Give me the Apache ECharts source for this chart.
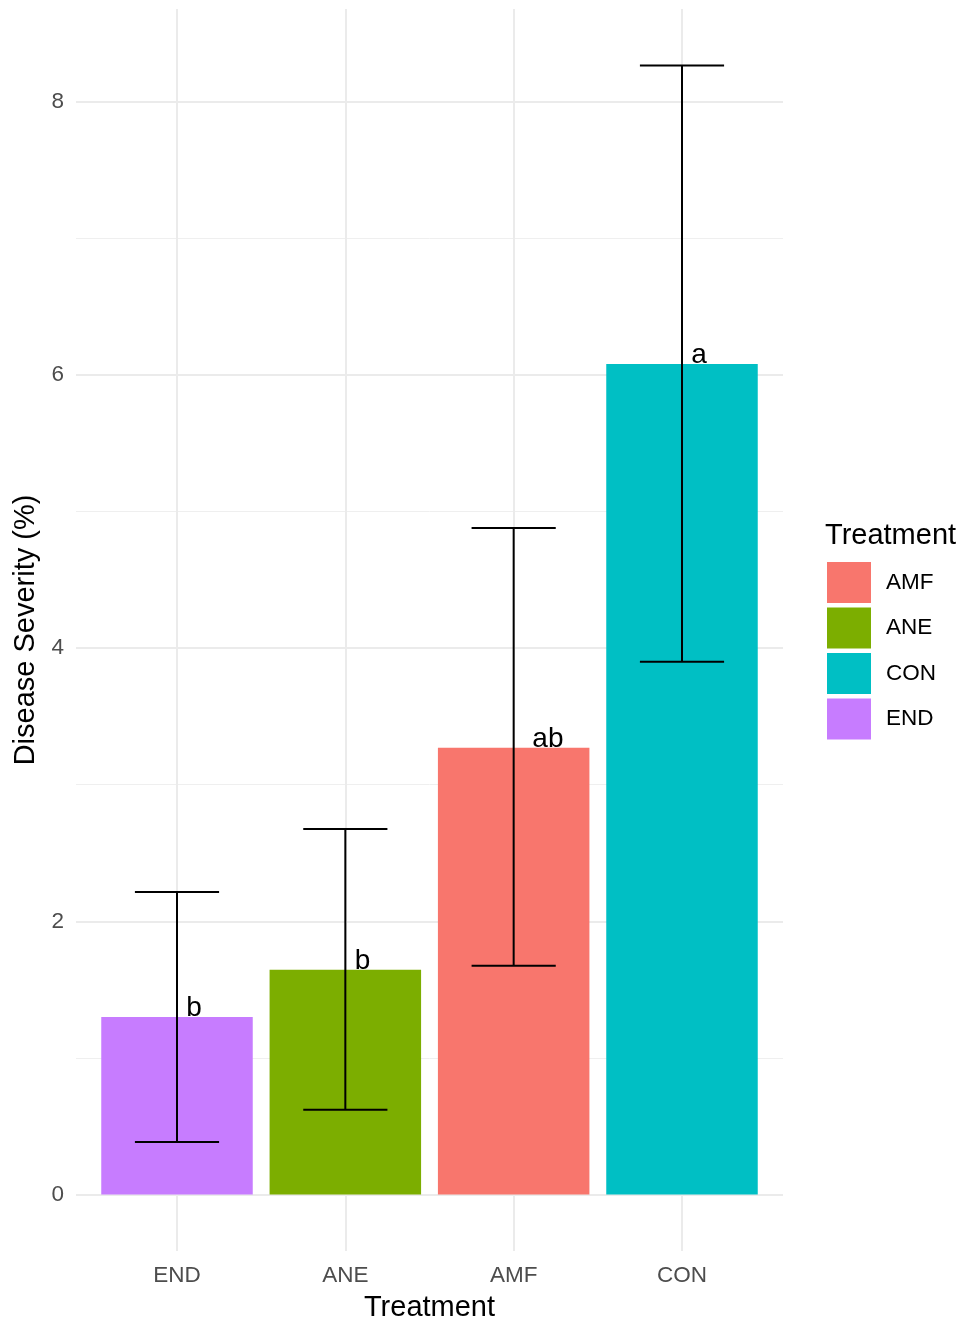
<!DOCTYPE html>
<html>
<head>
<meta charset="utf-8">
<title>Disease Severity by Treatment</title>
<script src="https://cdn.jsdelivr.net/npm/echarts@6.0.0/dist/echarts.min.js"></script>
<style>
  html, body { margin: 0; padding: 0; background: #fff; }
  #chart { width: 963px; height: 1321px; }
</style>
</head>
<body>
<div id="chart"></div>
<script>
const categories = ["END", "ANE", "AMF", "CON"];
const meanSeverity = [1.30, 1.645, 3.27, 6.08];
const lowerSeverity = [0.385, 0.62, 1.675, 3.90];
const upperSeverity = [2.215, 2.675, 4.88, 8.265];
const groupLetters = ["b", "b", "ab", "a"];
const legendOrder = ["AMF", "ANE", "CON", "END"];
const treatmentColors = { AMF: "#F8766D", ANE: "#7CAE00", CON: "#00BFC4", END: "#C77CFF" };
const yMajorTicks = [0, 2, 4, 6, 8];
const yMinorTicks = [1, 3, 5, 7];

const FONT = "'Liberation Sans', Arial, Helvetica, sans-serif";

// ggplot style expansion: 5% on the continuous axis, 0.6 on the discrete one
const yTop = Math.max(...upperSeverity);
const yMin = -0.05 * yTop;
const yMax = yTop * 1.05;
const xPos = categories.map((c, i) => i + 1);

// text width, used for a hjust-like offset of the letters
const measure = document.createElement("canvas").getContext("2d");
measure.font = "28px " + FONT;

const chart = echarts.init(document.getElementById("chart"));

const barSeries = legendOrder.map((name) => {
  const i = categories.indexOf(name);
  return {
    name: name,
    type: "bar",
    barWidth: "90%",
    barGap: "-100%",
    itemStyle: { color: treatmentColors[name] },
    data: [[xPos[i], meanSeverity[i]]],
    z: 2,
  };
});

const option = {
  animation: false,
  backgroundColor: "#fff",
  textStyle: { fontFamily: FONT },
  title: {
    text: "Treatment",
    left: 825,
    top: 521,
    padding: 0,
    textStyle: { fontSize: 29, fontWeight: "normal", color: "#000", fontFamily: FONT },
  },
  legend: {
    data: legendOrder,
    orient: "vertical",
    left: 827,
    top: 562,
    padding: 0,
    icon: "rect",
    itemWidth: 44,
    itemHeight: 41,
    itemGap: 4.5,
    selectedMode: false,
    textStyle: { fontSize: 22.5, color: "#000", fontFamily: FONT, padding: [4, 0, 0, 10] },
  },
  grid: { left: 76, top: 9, width: 707, height: 1242, outerBoundsMode: "none" },
  xAxis: {
    type: "value",
    min: 0.4,
    max: 4.6,
    name: "Treatment",
    nameLocation: "middle",
    nameGap: 42,
    nameTextStyle: { fontSize: 29, color: "#000", fontFamily: FONT },
    axisLine: { show: false },
    axisTick: { show: false, customValues: xPos },
    axisLabel: {
      customValues: xPos,
      formatter: (v) => categories[Math.round(v) - 1],
      fontSize: 22.5,
      color: "#4D4D4D",
      margin: 13,
      fontFamily: FONT,
    },
    splitLine: { show: true, lineStyle: { color: "#EBEBEB", width: 2 } },
  },
  yAxis: [
    {
      type: "value",
      min: yMin,
      max: yMax,
      name: "Disease Severity (%)",
      nameLocation: "middle",
      nameGap: 32,
      nameTextStyle: { fontSize: 29, color: "#000", fontFamily: FONT },
      axisLine: { show: false },
      axisTick: { show: false, customValues: yMajorTicks },
      axisLabel: {
        customValues: yMajorTicks,
        fontSize: 22.5,
        color: "#4D4D4D",
        margin: 12,
        fontFamily: FONT,
      },
      splitLine: { show: true, lineStyle: { color: "#EBEBEB", width: 2 } },
    },
    {
      type: "value",
      min: yMin,
      max: yMax,
      axisLine: { show: false },
      axisTick: { show: false, customValues: yMinorTicks },
      axisLabel: { show: false, customValues: yMinorTicks },
      splitLine: { show: true, lineStyle: { color: "#EFEFEF", width: 1 } },
    },
  ],
  series: [
    ...barSeries,
    {
      name: "errorbar",
      type: "custom",
      z: 3,
      data: categories.map((c, i) => [xPos[i], lowerSeverity[i], upperSeverity[i]]),
      renderItem: (params, api) => {
        const x = api.value(0);
        const lo = api.coord([x, api.value(1)]);
        const hi = api.coord([x, api.value(2)]);
        const half = api.size([0.5, 0])[0] / 2;
        const style = { stroke: "#000", lineWidth: 2 };
        return {
          type: "group",
          children: [
            { type: "line", shape: { x1: lo[0], y1: hi[1], x2: lo[0], y2: lo[1] }, style },
            { type: "line", shape: { x1: lo[0] - half, y1: hi[1], x2: lo[0] + half, y2: hi[1] }, style },
            { type: "line", shape: { x1: lo[0] - half, y1: lo[1], x2: lo[0] + half, y2: lo[1] }, style },
          ],
        };
      },
    },
    {
      name: "letters",
      type: "custom",
      z: 4,
      data: categories.map((c, i) => [xPos[i], meanSeverity[i]]),
      renderItem: (params, api) => {
        const p = api.coord([api.value(0), api.value(1)]);
        const txt = groupLetters[params.dataIndex];
        const w = measure.measureText(txt).width;
        return {
          type: "text",
          x: p[0] + 0.6 * w,
          y: p[1] + 5,
          style: {
            text: txt,
            fontSize: 28,
            fontFamily: FONT,
            fill: "#000",
            align: "left",
            verticalAlign: "bottom",
          },
        };
      },
    },
  ],
};

chart.setOption(option);
</script>
</body>
</html>
